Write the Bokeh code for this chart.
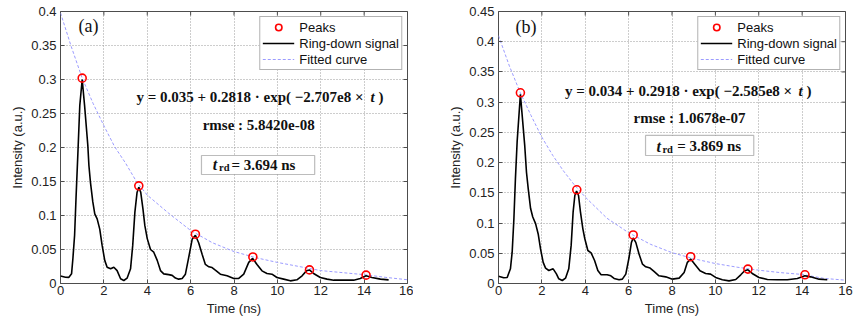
import math
from bokeh.plotting import figure
from bokeh.layouts import row
from bokeh.models import (Range1d, FixedTicker, Legend, LegendItem,
                          Label, BoxAnnotation)
from bokeh.embed import file_html
from bokeh.resources import INLINE

# ---------------- data ----------------
x_ticks = [0, 2, 4, 6, 8, 10, 12, 14, 16]
x_labels = ["0", "2", "4", "6", "8", "10", "12", "14", "16"]
ya_ticks = [0, 0.05, 0.1, 0.15, 0.2, 0.25, 0.3, 0.35, 0.4]
ya_labels = ["0", "0.05", "0.1", "0.15", "0.2", "0.25", "0.3", "0.35", "0.4"]
yb_ticks = [0, 0.05, 0.1, 0.15, 0.2, 0.25, 0.3, 0.35, 0.4, 0.45]
yb_labels = ["0", "0.05", "0.1", "0.15", "0.2", "0.25", "0.3", "0.35", "0.4", "0.45"]

# panel (a) ring-down signal
t_a = [0, 0.23, 0.38, 0.51, 0.57, 0.65, 0.72, 0.80, 0.89, 1.0, 1.11, 1.26, 1.31, 1.38,
       1.49, 1.58, 1.69, 1.81, 1.92, 2.04, 2.15, 2.31, 2.46, 2.61, 2.77, 2.92, 3.07,
       3.23, 3.33, 3.43, 3.53, 3.61, 3.70, 3.80, 3.89, 4.0, 4.15, 4.30, 4.46, 4.61,
       4.76, 4.99, 5.15, 5.30, 5.45, 5.61, 5.76, 5.91, 6.07, 6.22, 6.37, 6.53, 6.68,
       6.84, 6.99, 7.14, 7.37, 7.68, 7.99, 8.22, 8.45, 8.68, 8.86, 9.06, 9.29, 9.52,
       9.75, 9.98, 10.29, 10.6, 10.9, 11.14, 11.34, 11.48, 11.67, 11.98, 12.29, 12.6,
       13.06, 13.52, 13.82, 14.09, 14.36, 14.75, 15.13]
sig_a = [0.0110, 0.0093, 0.0090, 0.0142, 0.036, 0.071, 0.129, 0.190, 0.262, 0.300,
         0.262, 0.203, 0.1735, 0.149, 0.120, 0.1025, 0.095, 0.080, 0.056, 0.034, 0.024,
         0.0216, 0.024, 0.019, 0.0069, 0.0044, 0.0078, 0.0216, 0.056, 0.105, 0.134,
         0.1417, 0.134, 0.110, 0.085, 0.066, 0.050, 0.046, 0.034, 0.019, 0.0142, 0.0130,
         0.0120, 0.0080, 0.0064, 0.0074, 0.0137, 0.038, 0.065, 0.071, 0.060, 0.043,
         0.028, 0.0245, 0.0235, 0.0196, 0.0137, 0.0113, 0.0074, 0.0074, 0.0137, 0.031,
         0.037, 0.028, 0.0186, 0.0147, 0.0137, 0.0088, 0.0064, 0.0039, 0.0054, 0.0113,
         0.0186, 0.020, 0.0147, 0.0088, 0.0064, 0.0049, 0.0049, 0.0049, 0.0074, 0.0113,
         0.0088, 0.0064, 0.0054]
peak_t_a = [1.0, 3.61, 6.22, 8.87, 11.48, 14.09]
peak_y_a = [0.302, 0.1436, 0.0725, 0.039, 0.020, 0.0123]
fit_t_a = [0, 0.5, 1, 1.5, 2, 2.5, 3, 3.5, 4, 5, 6, 7, 8, 9, 10, 11, 12, 13, 14, 15, 16]
fit_y_a = [0.398, 0.348, 0.302, 0.265, 0.232, 0.201, 0.177, 0.150, 0.130, 0.103, 0.078,
           0.060, 0.047, 0.038, 0.031, 0.025, 0.019, 0.016, 0.013, 0.009, 0.0055]

# panel (b) ring-down signal
t_b = [0, 0.24, 0.40, 0.55, 0.63, 0.71, 0.78, 0.86, 1.01, 1.21, 1.29, 1.37, 1.48, 1.58,
       1.71, 1.83, 1.94, 2.06, 2.17, 2.32, 2.52, 2.67, 2.78, 2.94, 3.09, 3.24, 3.35,
       3.44, 3.52, 3.60, 3.69, 3.78, 3.89, 3.98, 4.12, 4.27, 4.43, 4.58, 4.73, 5.01,
       5.18, 5.33, 5.56, 5.71, 5.87, 6.02, 6.13, 6.21, 6.33, 6.48, 6.64, 6.79, 6.99,
       7.17, 7.40, 7.71, 8.02, 8.33, 8.56, 8.71, 8.86, 9.05, 9.29, 9.55, 9.78, 10.01,
       10.32, 10.63, 10.94, 11.17, 11.35, 11.50, 11.70, 12.01, 12.40, 12.86, 13.32,
       13.78, 14.13, 14.39, 14.78, 15.16]
sig_b = [0.0121, 0.0094, 0.0099, 0.0243, 0.0518, 0.107, 0.173, 0.235, 0.313, 0.228,
         0.184, 0.157, 0.124, 0.110, 0.099, 0.082, 0.057, 0.035, 0.0254, 0.0215, 0.0243,
         0.016, 0.0077, 0.005, 0.0088, 0.0243, 0.063, 0.118, 0.1456, 0.153, 0.1456,
         0.118, 0.0905, 0.074, 0.0546, 0.0507, 0.038, 0.0215, 0.0144, 0.0144, 0.0127,
         0.0083, 0.0061, 0.0072, 0.0155, 0.043, 0.068, 0.0753, 0.068, 0.0487, 0.032,
         0.0277, 0.0255, 0.020, 0.0127, 0.011, 0.0072, 0.0089, 0.0183, 0.035, 0.0404,
         0.032, 0.021, 0.0166, 0.0155, 0.010, 0.0061, 0.0044, 0.0066, 0.0144, 0.021,
         0.0227, 0.0166, 0.010, 0.0066, 0.0061, 0.0061, 0.0083, 0.0127, 0.011, 0.0072,
         0.0061]
peak_t_b = [1.01, 3.61, 6.21, 8.86, 11.5, 14.13]
peak_y_b = [0.3155, 0.155, 0.0803, 0.0443, 0.0238, 0.0144]
fit_t_b = [0, 0.5, 1, 1.5, 2, 2.5, 3, 3.5, 4, 5, 6, 7, 8, 9, 10, 11, 12, 13, 14, 15, 16]
fit_y_b = [0.410, 0.360, 0.316, 0.278, 0.242, 0.212, 0.186, 0.163, 0.143, 0.108, 0.084,
           0.065, 0.051, 0.041, 0.033, 0.027, 0.022, 0.018, 0.015, 0.0085, 0.0055]

legend_names = ["Peaks", "Ring-down signal", "Fitted curve"]

SANS = "Liberation Sans"
SERIF = "Liberation Serif"
TICK_COLOR = "#4d4d4d"


def make_panel(width, border_left, border_right, ymax, yticks, ylabels, t, sig,
               pk_t, pk_y, fit_t, fit_y, ann):
    p = figure(width=width, height=320, output_backend="svg", toolbar_location=None,
               x_range=Range1d(0, 16), y_range=Range1d(0, ymax),
               min_border_left=border_left, min_border_right=border_right,
               min_border_top=11, min_border_bottom=37)
    p.background_fill_color = "white"
    p.border_fill_color = "white"
    p.outline_line_color = TICK_COLOR
    p.outline_line_width = 1

    xa = p.below[0]
    ya = p.left[0]
    xa.ticker = FixedTicker(ticks=x_ticks)
    xa.major_label_overrides = dict(zip(x_ticks, x_labels))
    ya.ticker = FixedTicker(ticks=yticks)
    ya.major_label_overrides = dict(zip(yticks, ylabels))
    xa.axis_label = "Time (ns)"
    ya.axis_label = "Intensity (a.u.)"
    for ax in (xa, ya):
        ax.axis_line_color = None
        ax.major_tick_in = 4
        ax.major_tick_out = 0
        ax.major_tick_line_color = TICK_COLOR
        ax.minor_tick_line_color = None
        ax.major_label_text_font = SANS
        ax.major_label_text_font_size = "13px"
        ax.major_label_text_color = "#222222"
        ax.axis_label_text_font = SANS
        ax.axis_label_text_font_size = "13px"
        ax.axis_label_text_font_style = "normal"
        ax.axis_label_text_color = "#222222"
    xa.major_label_standoff = 2
    xa.axis_label_standoff = 3
    ya.major_label_standoff = 4
    ya.axis_label_standoff = 3

    for g in (p.xgrid[0], p.ygrid[0]):
        g.grid_line_color = "#9a9a9a"
        g.grid_line_dash = "1 2"
        g.grid_line_width = 1

    # inward ticks on the top and right edges of the box (clipped to the frame)
    p.scatter(x_ticks, [ymax] * len(x_ticks), marker="dash", angle=math.pi / 2,
              size=8, line_color=TICK_COLOR, line_width=1)
    p.scatter([16] * len(yticks), yticks, marker="dash", size=8,
              line_color=TICK_COLOR, line_width=1)

    r_fit = p.line(fit_t, fit_y, line_color="#9b9bff", line_width=1, line_dash="3 2")
    r_sig = p.line(t, sig, line_color="black", line_width=1.6)
    r_pk = p.scatter(pk_t, pk_y, marker="circle", size=8, fill_color=None,
                     line_color="#ff0000", line_width=1.6)

    legend = Legend(items=[LegendItem(label=legend_names[0], renderers=[r_pk]),
                           LegendItem(label=legend_names[1], renderers=[r_sig]),
                           LegendItem(label=legend_names[2], renderers=[r_fit])],
                    location="top_right", margin=5, padding=2, spacing=0,
                    label_height=16, glyph_height=16, glyph_width=32,
                    label_standoff=5, label_text_font=SANS,
                    label_text_font_size="13px", label_text_color="#111111",
                    border_line_color="#666666", border_line_width=1,
                    background_fill_color="white", background_fill_alpha=1)
    p.add_layout(legend)

    # panel tag
    p.add_layout(Label(x=ann["tag_x"], y=ann["tag_y"], text=ann["tag"],
                       text_font=SERIF, text_font_size="18px",
                       text_baseline="middle", text_align="left", text_color="#111111"))
    # equation
    p.add_layout(Label(x=ann["eq_x"], y=ann["eq_y"], text=ann["eq"],
                       text_font=SERIF, text_font_style="bold", text_font_size="15px",
                       text_baseline="middle", text_align="right", text_color="#111111"))
    p.add_layout(Label(x=ann["eq_t_x"], y=ann["eq_y"], text="t",
                       text_font=SERIF, text_font_style="bold italic",
                       text_font_size="15px", text_baseline="middle",
                       text_align="left", text_color="#111111"))
    p.add_layout(Label(x=ann["eq_p_x"], y=ann["eq_y"], text=")",
                       text_font=SERIF, text_font_style="bold", text_font_size="15px",
                       text_baseline="middle", text_align="left", text_color="#111111"))
    # rmse
    p.add_layout(Label(x=ann["rmse_x"], y=ann["rmse_y"], text=ann["rmse"],
                       text_font=SERIF, text_font_style="bold", text_font_size="15px",
                       text_baseline="middle", text_align="center", text_color="#111111"))
    # t_rd box
    p.add_layout(BoxAnnotation(left=ann["box"][0], right=ann["box"][1],
                               bottom=ann["box"][2], top=ann["box"][3],
                               fill_color="white", fill_alpha=1,
                               line_color="#222222", line_width=1.2))
    p.add_layout(Label(x=ann["trd_t_x"], y=ann["trd_y"], text="t",
                       text_font=SERIF, text_font_style="bold italic",
                       text_font_size="16px", text_baseline="middle",
                       text_align="left", text_color="#111111"))
    p.add_layout(Label(x=ann["trd_rd_x"], y=ann["trd_rd_y"], text="rd",
                       text_font=SERIF, text_font_style="bold",
                       text_font_size="10.5px", text_baseline="middle",
                       text_align="left", text_color="#111111"))
    p.add_layout(Label(x=ann["trd_v_x"], y=ann["trd_y"], text=ann["trd"],
                       text_font=SERIF, text_font_style="bold", text_font_size="15px",
                       text_baseline="middle", text_align="left", text_color="#111111"))
    return p


ann_a = dict(tag="(a)", tag_x=0.83, tag_y=0.378,
             eq="y = 0.035 + 0.2818 \u00b7 exp( \u22122.707e8 \u00d7", eq_x=13.97,
             eq_t_x=14.29, eq_p_x=14.66, eq_y=0.274,
             rmse="rmse : 5.8420e-08", rmse_x=9.14, rmse_y=0.2324,
             box=(6.50, 11.72, 0.1603, 0.1882),
             trd_t_x=7.02, trd_rd_x=7.31, trd_v_x=7.88, trd_y=0.1746, trd_rd_y=0.170,
             trd="= 3.694 ns")
ann_b = dict(tag="(b)", tag_x=0.78, tag_y=0.425,
             eq="y = 0.034 + 0.2918 \u00b7 exp( \u22122.585e8 \u00d7", eq_x=13.54,
             eq_t_x=13.83, eq_p_x=14.2, eq_y=0.3193,
             rmse="rmse : 1.0678e-07", rmse_x=8.81, rmse_y=0.2742,
             box=(6.78, 11.77, 0.2118, 0.2449),
             trd_t_x=7.28, trd_rd_x=7.56, trd_v_x=8.24, trd_y=0.2272, trd_rd_y=0.2217,
             trd="= 3.869 ns")

pa = make_panel(413, 60, 6, 0.4, ya_ticks, ya_labels, t_a, sig_a, peak_t_a, peak_y_a,
                fit_t_a, fit_y_a, ann_a)
pb = make_panel(440, 85, 8, 0.45, yb_ticks, yb_labels, t_b, sig_b, peak_t_b, peak_y_b,
                fit_t_b, fit_y_b, ann_b)

layout = row(pa, pb)
open("out.html", "w").write(file_html(layout, INLINE))
